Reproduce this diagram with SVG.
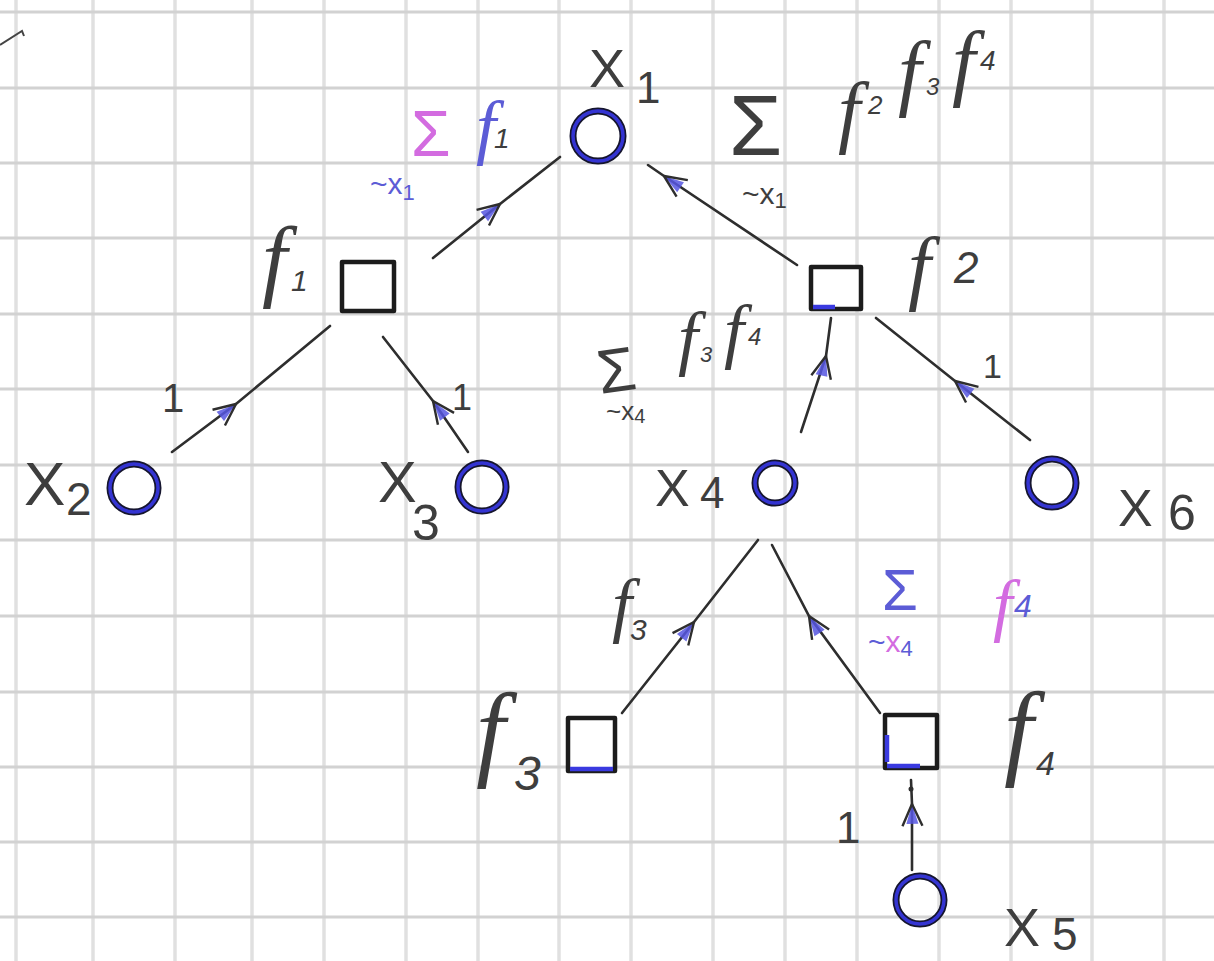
<svg xmlns="http://www.w3.org/2000/svg" width="1214" height="961" viewBox="0 0 1214 961">
  <defs>
    <style>
      .gh { stroke: #d2d2d2; stroke-width: 3; }
      .gv { stroke: #e0e0e0; stroke-width: 3.5; }
      .edge { fill: none; stroke: #2e2e2e; stroke-width: 2.6; stroke-linecap: round; marker-mid: url(#chev); }
      .var .rim { fill: none; stroke: #15152e; stroke-width: 7; }
      .var .ink { fill: none; stroke: #3434d2; stroke-width: 3.5; }
      .fac .box { fill: #ffffff; stroke: #1c1c1c; stroke-width: 4.5; stroke-linejoin: round; }
      .fac .low { stroke: #3a3ae0; stroke-width: 4.5; stroke-linecap: butt; }
      .hw { font-family: "Liberation Sans", Arial, sans-serif; fill: #3e3e3e; }
      .f { font-family: "Liberation Serif", "Times New Roman", serif; font-style: italic; fill: #3e3e3e; }
      .mag { fill: #d36ce0; }
      .blu { fill: #5c5cd6; }
    </style>
    <!-- hand-drawn chevron arrowhead with a blue wash, tip at the vertex -->
    <marker id="chev" markerUnits="userSpaceOnUse" markerWidth="60" markerHeight="60" refX="0" refY="0" viewBox="-30 -30 60 60" orient="auto" overflow="visible">
      <path d="M-20,-6 L0,0 L-20,6 Z" fill="#5656e0" fill-opacity="0.85"/>
      <path d="M-22,-10 L0,0 L-22,10" fill="none" stroke="#2e2e2e" stroke-width="2.4" stroke-linejoin="round"/>
    </marker>
  </defs>

  <rect width="1214" height="961" fill="#ffffff"/>

  <!-- squared paper -->
  <g id="grid">
    <g class="gv">
      <line x1="16" y1="0" x2="16" y2="961"/>
      <line x1="93" y1="0" x2="93" y2="961"/>
      <line x1="175" y1="0" x2="175" y2="961"/>
      <line x1="252" y1="0" x2="252" y2="961"/>
      <line x1="324" y1="0" x2="324" y2="961"/>
      <line x1="406" y1="0" x2="406" y2="961"/>
      <line x1="478" y1="0" x2="478" y2="961"/>
      <line x1="559" y1="0" x2="559" y2="961"/>
      <line x1="631" y1="0" x2="631" y2="961"/>
      <line x1="713" y1="0" x2="713" y2="961"/>
      <line x1="785" y1="0" x2="785" y2="961"/>
      <line x1="857" y1="0" x2="857" y2="961"/>
      <line x1="939" y1="0" x2="939" y2="961"/>
      <line x1="1011" y1="0" x2="1011" y2="961"/>
      <line x1="1092" y1="0" x2="1092" y2="961"/>
      <line x1="1164" y1="0" x2="1164" y2="961"/>
    </g>
    <g class="gh">
      <line x1="0" y1="12" x2="1214" y2="12"/>
      <line x1="0" y1="88" x2="1214" y2="88"/>
      <line x1="0" y1="163" x2="1214" y2="163"/>
      <line x1="0" y1="238" x2="1214" y2="238"/>
      <line x1="0" y1="314" x2="1214" y2="314"/>
      <line x1="0" y1="389" x2="1214" y2="389"/>
      <line x1="0" y1="465" x2="1214" y2="465"/>
      <line x1="0" y1="540" x2="1214" y2="540"/>
      <line x1="0" y1="616" x2="1214" y2="616"/>
      <line x1="0" y1="692" x2="1214" y2="692"/>
      <line x1="0" y1="767" x2="1214" y2="767"/>
      <line x1="0" y1="842" x2="1214" y2="842"/>
      <line x1="0" y1="917" x2="1214" y2="917"/>
    </g>
  </g>

  <!-- stray pen stroke in the corner -->
  <path d="M0,45 L22,31 L24,36" fill="none" stroke="#444" stroke-width="2"/>

  <!-- connectors: each polyline runs source -> arrowhead -> target -->
  <g id="connectors">
    <polyline class="edge" points="172,452 236,404 330,326"/>
    <polyline class="edge" points="468,452 433,401 383,337"/>
    <polyline class="edge" points="433,258 500,204 560,157"/>
    <polyline class="edge" points="797,265 664,176 648,165"/>
    <polyline class="edge" points="801,432 826,356 831,318"/>
    <polyline class="edge" points="1030,440 955,381 876,318"/>
    <polyline class="edge" points="622,713 694,622 758,540"/>
    <polyline class="edge" points="880,713 809,616 772,545"/>
    <polyline class="edge" points="912,870 912,804 911,780"/>
    <circle cx="911" cy="789" r="2.5" fill="#2e2e2e"/>
  </g>

  <!-- variable nodes -->
  <g id="x1" class="var">
    <circle class="rim" cx="598" cy="136" r="25"/><circle class="ink" cx="598" cy="136" r="25"/>
    <text class="hw" x="589" y="87" font-size="54">X<tspan x="636" y="103" font-size="44">1</tspan></text>
  </g>
  <g id="x2" class="var">
    <circle class="rim" cx="134" cy="488" r="24"/><circle class="ink" cx="134" cy="488" r="24"/>
    <text class="hw" x="24" y="505" font-size="62">X<tspan x="66" y="515" font-size="46">2</tspan></text>
  </g>
  <g id="x3" class="var">
    <circle class="rim" cx="482" cy="487" r="24"/><circle class="ink" cx="482" cy="487" r="24"/>
    <text class="hw" x="378" y="502" font-size="58">X<tspan x="412" y="540" font-size="50">3</tspan></text>
  </g>
  <g id="x4" class="var">
    <circle class="rim" cx="775" cy="483" r="20"/><circle class="ink" cx="775" cy="483" r="20"/>
    <text class="hw" x="655" y="506" font-size="52">X<tspan x="700" y="508" font-size="44">4</tspan></text>
  </g>
  <g id="x5" class="var">
    <circle class="rim" cx="920" cy="900" r="24"/><circle class="ink" cx="920" cy="900" r="24"/>
    <text class="hw" x="1004" y="946" font-size="54">X<tspan x="1052" y="950" font-size="46">5</tspan></text>
  </g>
  <g id="x6" class="var">
    <circle class="rim" cx="1052" cy="483" r="24"/><circle class="ink" cx="1052" cy="483" r="24"/>
    <text class="hw" x="1118" y="526" font-size="52">X<tspan x="1168" y="530" font-size="50">6</tspan></text>
  </g>

  <!-- factor nodes -->
  <g id="f1" class="fac">
    <rect class="box" x="342" y="262" width="52" height="49"/>
    <text class="f" x="262" y="290" font-size="90">f<tspan class="hw" x="291" y="291" font-size="30">1</tspan></text>
  </g>
  <g id="f2" class="fac">
    <rect class="box" x="811" y="267" width="50" height="42"/>
    <line class="low" x1="813" y1="307" x2="835" y2="307"/>
    <text class="f" x="908" y="294" font-size="82">f<tspan class="hw" x="954" y="283" font-size="44">2</tspan></text>
  </g>
  <g id="f3" class="fac">
    <rect class="box" x="568" y="718" width="47" height="53"/>
    <line class="low" x1="570" y1="769" x2="613" y2="769"/>
    <text class="f" x="476" y="766" font-size="105">f<tspan class="hw" x="514" y="790" font-size="48">3</tspan></text>
  </g>
  <g id="f4" class="fac">
    <rect class="box" x="885" y="715" width="52" height="53"/>
    <line class="low" x1="887" y1="766" x2="920" y2="766"/>
    <line class="low" x1="887" y1="735" x2="887" y2="762"/>
    <text class="f" x="1004" y="765" font-size="105">f<tspan class="hw" x="1036" y="775" font-size="34">4</tspan></text>
  </g>

  <!-- message labels on the connectors -->
  <g id="messages">
    <!-- 1 -->
    <text class="hw" x="162" y="412" font-size="40">1</text>
    <text class="hw" x="452" y="410" font-size="36">1</text>
    <text class="hw" x="983" y="378" font-size="34">1</text>
    <text class="hw" x="836" y="843" font-size="44">1</text>

    <!-- sum over ~x1 of f1 -->
    <text class="hw mag" x="411" y="156" font-size="64">Σ</text>
    <text class="f blu" x="476" y="151" font-size="72">f<tspan class="hw" x="494" y="148" font-size="28">1</tspan></text>
    <text class="hw blu" x="370" y="194" font-size="30">~x<tspan font-size="22" dy="6">1</tspan></text>

    <!-- sum over ~x1 of f2 f3 f4 -->
    <text class="hw" x="729" y="155" font-size="86">Σ</text>
    <text class="hw" x="742" y="204" font-size="30">~x<tspan font-size="22" dy="4">1</tspan></text>
    <text class="f" x="838" y="138" font-size="80">f<tspan class="hw" x="868" y="114" font-size="26">2</tspan></text>
    <text class="f" x="898" y="100" font-size="84">f<tspan class="hw" x="926" y="95" font-size="24">3</tspan></text>
    <text class="f" x="952" y="90" font-size="84">f<tspan class="hw" x="980" y="70" font-size="28">4</tspan></text>

    <!-- sum over ~x4 of f3 f4 -->
    <text class="hw" x="597" y="391" font-size="62" transform="rotate(-8 620 370)">Σ</text>
    <text class="hw" x="606" y="420" font-size="26">~x<tspan font-size="20" dy="3">4</tspan></text>
    <text class="f" x="678" y="362" font-size="72">f<tspan class="hw" x="700" y="362" font-size="22">3</tspan></text>
    <text class="f" x="724" y="355" font-size="72">f<tspan class="hw" x="748" y="345" font-size="24">4</tspan></text>

    <!-- f3 -->
    <text class="f" x="612" y="629" font-size="72">f<tspan class="hw" x="630" y="640" font-size="30">3</tspan></text>

    <!-- sum over ~x4 of f4 -->
    <text class="hw blu" x="882" y="610" font-size="58">Σ</text>
    <text class="hw blu" x="868" y="652" font-size="30">~<tspan class="mag">x</tspan><tspan font-size="22" dy="4">4</tspan></text>
    <text class="f mag" x="993" y="628" font-size="70">f<tspan class="hw blu" x="1014" y="617" font-size="32">4</tspan></text>
  </g>
</svg>
